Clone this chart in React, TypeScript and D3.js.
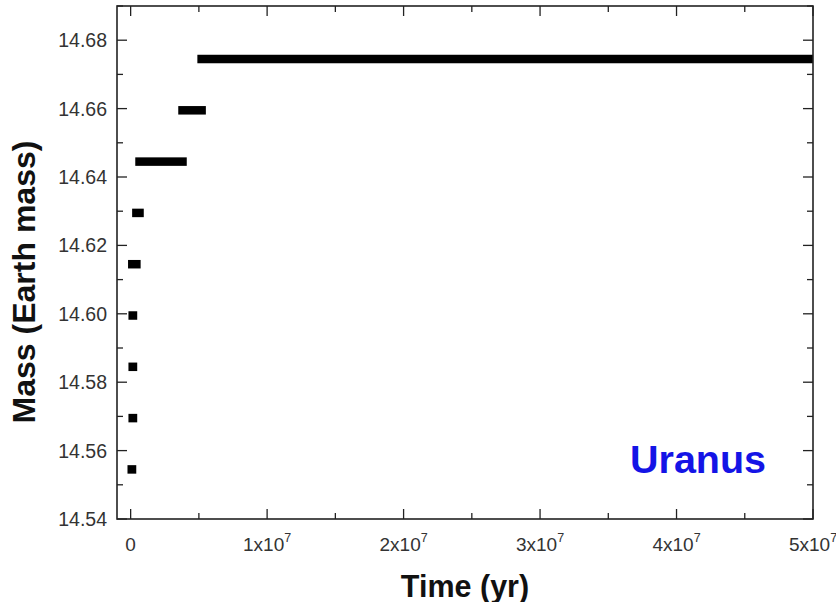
import React, { useEffect, useRef } from 'react'
import * as d3 from 'd3'

// mass levels (Earth mass) and the time span (yr) each one lasts
const masses = [14.5545, 14.5695, 14.5845, 14.5995, 14.6145, 14.6295, 14.6445, 14.6595, 14.6745]
const tStart = [0.08e6, 0.15e6, 0.15e6, 0.15e6, 0.12e6, 0.42e6, 0.65e6, 3.8e6, 5.2e6]
const tEnd = [0.1e6, 0.17e6, 0.17e6, 0.17e6, 0.42e6, 0.65e6, 3.8e6, 5.2e6, 5.5e7]

const xTicks = [0, 1e7, 2e7, 3e7, 4e7, 5e7]
const xTickLabels = ['0', '1x10', '2x10', '3x10', '4x10', '5x10']
const yTicks = [14.54, 14.56, 14.58, 14.6, 14.62, 14.64, 14.66, 14.68]
const planet = 'Uranus'

const W = 836, H = 602
const left = 117, right = 813, top = 6, bottom = 519
const font = '"Liberation Sans", Arial, sans-serif'

function App() {
    const ref = useRef<SVGSVGElement>(null)

    useEffect(() => {
        const svg = d3.select(ref.current)
        svg.selectAll('*').remove()

        const x = d3.scaleLinear().domain([-1.0e6, 5e7]).range([left, right])
        const y = d3.scaleLinear().domain([14.54, 14.69]).range([bottom, top])

        svg.append('clipPath').attr('id', 'plotclip')
            .append('rect')
            .attr('x', left).attr('y', top)
            .attr('width', right - left).attr('height', bottom - top)

        // step bars
        const barH = 8.5
        const data = masses.map((m, i) => ({ m, t0: tStart[i], t1: tEnd[i] }))
        svg.append('g').attr('clip-path', 'url(#plotclip)')
            .selectAll('rect')
            .data(data)
            .enter()
            .append('rect')
            .attr('x', d => x(d.t0) - barH / 2)
            .attr('width', d => x(d.t1) - x(d.t0) + barH)
            .attr('y', d => y(d.m) - barH / 2)
            .attr('height', barH)
            .attr('fill', '#000')

        // ticks (inward, all four sides)
        const ticks = svg.append('g').attr('stroke', '#222').attr('stroke-width', 1.3)
        const xMinor = d3.range(0, 5.01e7, 0.5e7)
        xMinor.forEach((t, i) => {
            const len = i % 2 === 0 ? 10 : 6
            ticks.append('line').attr('x1', x(t)).attr('x2', x(t)).attr('y1', bottom).attr('y2', bottom - len)
            ticks.append('line').attr('x1', x(t)).attr('x2', x(t)).attr('y1', top).attr('y2', top + len)
        })
        const yMinor = d3.range(14.54, 14.6901, 0.01)
        yMinor.forEach((v, i) => {
            const len = i % 2 === 0 ? 10 : 6
            ticks.append('line').attr('x1', left).attr('x2', left + len).attr('y1', y(v)).attr('y2', y(v))
            ticks.append('line').attr('x1', right).attr('x2', right - len).attr('y1', y(v)).attr('y2', y(v))
        })

        // frame
        svg.append('rect')
            .attr('x', left).attr('y', top)
            .attr('width', right - left).attr('height', bottom - top)
            .attr('fill', 'none').attr('stroke', '#222').attr('stroke-width', 1.6)

        // y tick labels
        svg.append('g').selectAll('text')
            .data(yTicks)
            .enter()
            .append('text')
            .attr('x', 107)
            .attr('y', d => y(d))
            .attr('dy', '0.36em')
            .attr('text-anchor', 'end')
            .attr('font-family', font)
            .attr('font-size', 19.5)
            .attr('fill', '#333')
            .text(d => d.toFixed(2))

        // x tick labels with superscript exponent
        const xl = svg.append('g').selectAll('text')
            .data(xTicks)
            .enter()
            .append('text')
            .attr('x', d => x(d))
            .attr('y', 551)
            .attr('text-anchor', 'middle')
            .attr('font-family', font)
            .attr('font-size', 19)
            .attr('fill', '#333')
        xl.append('tspan').text((d, i) => xTickLabels[i])
        xl.filter(d => d !== 0)
            .append('tspan')
            .attr('dy', -9)
            .attr('font-size', 12.5)
            .text('7')

        // axis titles
        svg.append('text')
            .attr('transform', 'translate(35,282) rotate(-90)')
            .attr('text-anchor', 'middle')
            .attr('font-family', font)
            .attr('font-weight', 'bold')
            .attr('font-size', 32)
            .attr('fill', '#111')
            .text('Mass (Earth mass)')

        svg.append('text')
            .attr('x', (left + right) / 2)
            .attr('y', 597)
            .attr('text-anchor', 'middle')
            .attr('font-family', font)
            .attr('font-weight', 'bold')
            .attr('font-size', 30.5)
            .attr('fill', '#111')
            .text('Time (yr)')

        svg.append('text')
            .attr('x', 630)
            .attr('y', 473)
            .attr('font-family', font)
            .attr('font-weight', 'bold')
            .attr('font-size', 39.5)
            .attr('fill', '#1414e6')
            .text(planet)
    }, [])

    return (
        <svg ref={ref} width={W} height={H}
            style={{ position: 'absolute', left: 0, top: 0, background: '#fff' }} />
    )
}

export default App
